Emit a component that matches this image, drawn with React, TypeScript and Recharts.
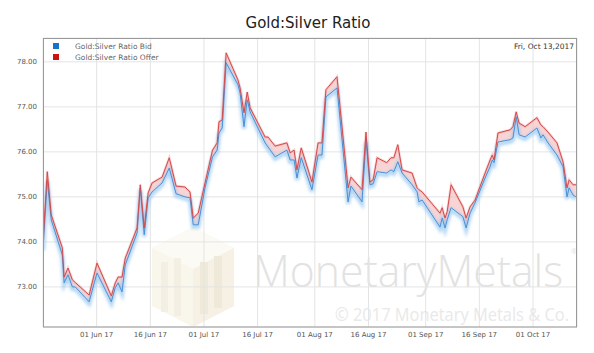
import React from 'react';
import { ComposedChart, Line, Area, XAxis, YAxis, CartesianGrid } from 'recharts';

// days after 1 Jun 2017
const days = [-15.0,-13.8,-12.7,-9.6,-9.1,-8.0,-6.8,-6.0,-2.1,0.1,4.1,5.2,6.0,7.1,8.0,11.3,12.2,13.3,14.4,15.5,18.3,20.3,22.2,24.7,26.1,27.0,28.4,30.3,32.4,33.7,34.2,35.1,36.2,39.5,40.1,41.2,42.1,42.9,47.1,47.9,49.9,53.2,54.1,55.2,56.0,57.2,60.2,61.9,63.0,64.1,67.2,70.3,71.1,74.2,75.3,76.4,77.3,78.4,81.1,82.3,83.1,84.2,85.4,88.2,89.6,90.1,91.0,96.0,96.6,97.4,98.0,99.1,102.4,103.3,104.4,105.8,108.6,110.0,110.6,111.1,112.2,115.6,116.4,117.3,118.1,119.8,123.1,124.2,124.8,126.2,128.7,130.4,131.5,132.1,133.2,134.0];

const bid = [73.85,75.38,74.49,73.71,73.09,73.27,73.0,73.0,72.67,73.31,72.67,72.98,73.09,72.89,73.49,74.2,75.2,74.16,74.98,75.11,75.31,75.64,75.07,75.0,74.98,74.38,74.38,75.2,75.89,76.04,76.42,76.53,77.98,77.49,77.31,76.56,77.16,76.89,76.2,76.11,75.89,76.04,75.82,75.82,75.42,75.87,75.16,75.93,75.93,77.22,77.42,74.89,75.24,74.89,76.27,75.27,75.29,75.56,75.53,75.6,75.56,75.78,75.53,75.27,75.11,74.89,74.93,74.33,74.53,74.31,74.49,74.76,74.56,74.31,74.64,74.87,75.42,75.67,75.82,75.76,76.22,76.27,76.31,76.78,76.38,76.33,76.53,76.31,76.38,76.2,75.93,75.67,75.0,75.2,75.04,75.0];

const offer = [74.0,75.56,74.6,73.87,73.22,73.42,73.16,73.1,72.82,73.53,72.8,73.09,73.22,73.22,73.64,74.31,75.27,74.31,75.09,75.31,75.44,75.87,75.24,75.22,75.11,74.53,74.64,75.31,76.04,76.2,76.67,76.71,78.2,77.6,77.42,76.87,77.33,76.98,76.33,76.33,76.13,76.2,75.98,76.04,75.6,76.09,75.33,76.2,76.2,77.38,77.67,75.2,75.44,75.16,76.44,75.33,75.38,75.87,75.76,75.87,75.87,76.16,75.6,75.53,75.2,75.16,75.11,74.64,74.76,74.53,74.67,75.27,74.78,74.53,74.78,74.93,75.53,75.82,75.93,75.82,76.42,76.49,76.56,76.89,76.64,76.56,76.76,76.6,76.56,76.44,76.2,75.78,75.2,75.38,75.27,75.27];

const tickDays = [0, 15, 30, 45, 61, 76, 92, 107, 122];
const tickLabels = ['01 Jun 17', '16 Jun 17', '01 Jul 17', '16 Jul 17', '01 Aug 17', '16 Aug 17', '01 Sep 17', '16 Sep 17', '01 Oct 17'];
const yTicks = [73, 74, 75, 76, 77, 78];

const titleText = 'Gold:Silver Ratio';
const seriesNames = ['Gold:Silver Ratio Bid', 'Gold:Silver Ratio Offer'];
const dateText = 'Fri, Oct 13,2017';

const data = days.map((d, i) => ({ day: d, bid: bid[i], offer: offer[i], band: [bid[i], offer[i]] }));

const FONT = 'DejaVu Sans, sans-serif';

export default function App() {
  const fmtX = (v: number) => {
    const i = tickDays.indexOf(v);
    return i >= 0 ? tickLabels[i] : '';
  };
  return (
    <div style={{ position: 'absolute', left: 0, top: 0, width: 594, height: 353, background: '#fff', fontFamily: FONT }}>
      <svg width={594} height={353} style={{ position: 'absolute', left: 0, top: 0 }}>
        <g opacity={0.45}>
          <polygon points="193,227 234,248 234,306 193,327 152,306 152,248" fill="#f3ecd6" />
          <polygon points="193,227 234,248 193,269 152,248" fill="#f8f4e8" />
          <polygon points="193,269 234,248 234,306 193,327" fill="#ece2c4" />
          <rect x={161} y={262} width={7} height={50} fill="#e6dcc0" />
          <rect x={174} y={258} width={7} height={58} fill="#e6dcc0" />
          <rect x={200} y={262} width={8} height={52} fill="#ddd0ae" />
          <rect x={214} y={256} width={8} height={52} fill="#ddd0ae" />
        </g>
        <text x={563} y={287} textAnchor="end" fontFamily="Open Sans, sans-serif" fontWeight={300} fontSize={44} fill="#e2e2e2" textLength={310} lengthAdjust="spacingAndGlyphs">MonetaryMetals</text>
        <text x={574} y={254} textAnchor="middle" fontFamily="Open Sans, sans-serif" fontSize={7} fill="#e2e2e2">®</text>
        <text x={569} y={321} textAnchor="end" fontFamily="Open Sans, sans-serif" fontSize={18} fill="#e9e9e9" textLength={234} lengthAdjust="spacingAndGlyphs">© 2017 Monetary Metals &amp; Co.</text>
      </svg>
      <div style={{ position: 'absolute', left: 0, top: 0 }}>
        <ComposedChart width={594} height={353} data={data} margin={{ top: 38, right: 17, bottom: 6, left: 3 }}>
          <defs>
            <filter id="blueGlow" x="-10%" y="-10%" width="120%" height="130%">
              <feGaussianBlur stdDeviation="1.5" />
              <feOffset dy="1.5" />
            </filter>
          </defs>
          <CartesianGrid stroke="#e4e4e4" />
          <XAxis
            dataKey="day"
            type="number"
            domain={[-15, 134.3]}
            allowDataOverflow
            ticks={tickDays}
            tickFormatter={fmtX}
            height={20}
            axisLine={false}
            tickLine={false}
            tickSize={3}
            tickMargin={2}
            tick={{ fontSize: 7, fill: '#555', fontFamily: FONT }}
            interval={0}
          />
          <YAxis
            type="number"
            domain={[72.11, 78.53]}
            allowDataOverflow
            ticks={yTicks}
            tickFormatter={(v: number) => v.toFixed(2)}
            width={40}
            axisLine={false}
            tickLine={false}
            tickSize={3}
            tickMargin={3}
            tick={{ fontSize: 7, fill: '#555', fontFamily: FONT }}
          />
          <Area type="linear" dataKey="band" stroke="none" fill="#f3b9b9" fillOpacity={0.6} isAnimationActive={false} />
          <Line type="linear" dataKey="bid" stroke="#8fc3ef" strokeWidth={4} strokeOpacity={0.7} dot={false} filter="url(#blueGlow)" isAnimationActive={false} />
          <Line type="linear" dataKey="offer" stroke="#f0a0a0" strokeWidth={2.5} strokeOpacity={0.45} dot={false} isAnimationActive={false} />
          <Line type="linear" dataKey="bid" stroke="#4a8fd6" strokeWidth={1} dot={false} isAnimationActive={false} />
          <Line type="linear" dataKey="offer" stroke="#d44a4a" strokeWidth={1} dot={false} isAnimationActive={false} />
        </ComposedChart>
      </div>
      <svg width={594} height={353} style={{ position: 'absolute', left: 0, top: 0, pointerEvents: 'none' }}>
        <rect x={43.5} y={38.5} width={533} height={288.5} fill="none" stroke="#9a9a9a" strokeWidth={1} />
        <text x={308} y={28} textAnchor="middle" fontFamily={FONT} fontSize={15} fill="#222">{titleText}</text>
        <rect x={53} y={43} width={6} height={6} fill="#1a73c9" />
        <rect x={53} y={54} width={6} height={6} fill="#c81414" />
        <text x={75} y={49} fontFamily={FONT} fontSize={7.5} fill="#666">{seriesNames[0]}</text>
        <text x={75} y={60} fontFamily={FONT} fontSize={7.5} fill="#666">{seriesNames[1]}</text>
        <text x={574} y={49} textAnchor="end" fontFamily={FONT} fontSize={7.5} fill="#333">{dateText}</text>
      </svg>
    </div>
  );
}
